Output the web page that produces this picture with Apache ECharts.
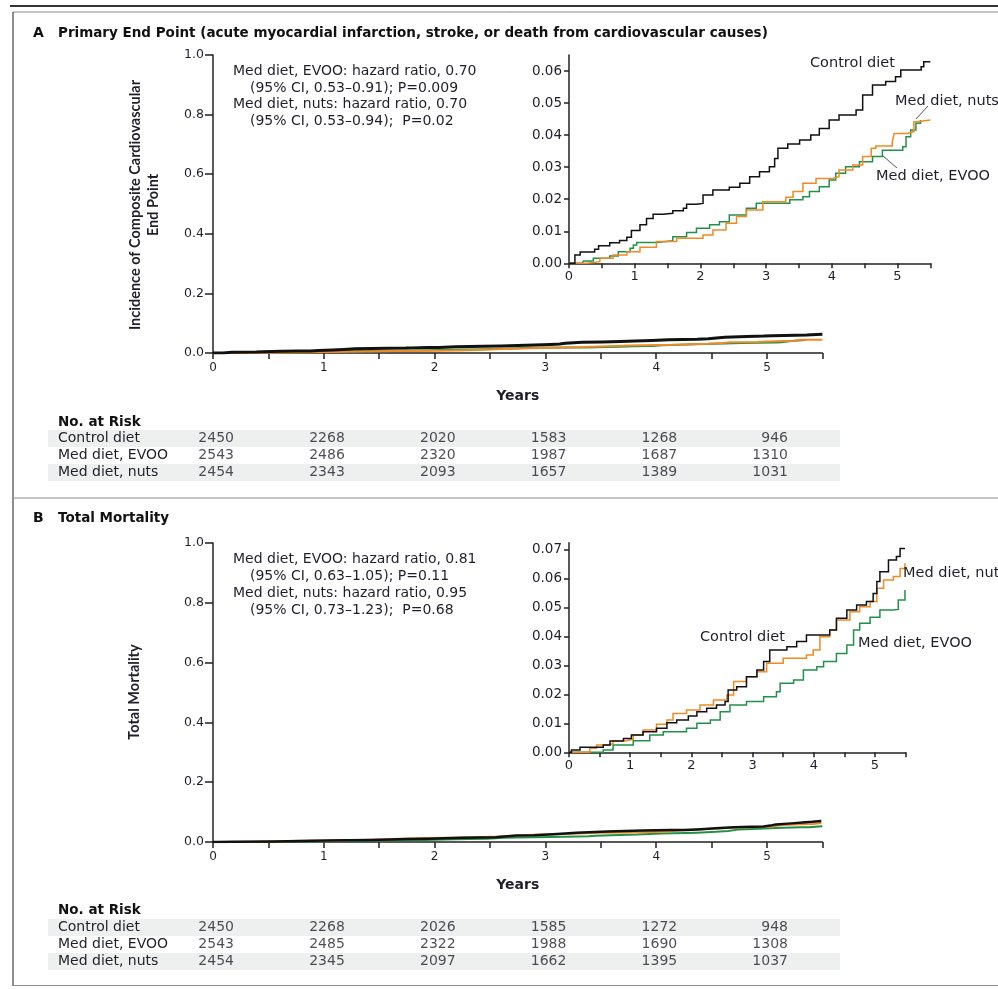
<!DOCTYPE html>
<html>
<head>
<meta charset="utf-8">
<script src="https://cdn.jsdelivr.net/npm/echarts@6/dist/echarts.min.js"></script>
<style>
  html, body { margin: 0; padding: 0; background: #fff; }
  #chart { width: 998px; height: 989px; }
</style>
</head>
<body>
<div id="chart"></div>
<script>
// Cumulative incidence step curves: [years, cumulative incidence]
// Panel A: primary end point
const controlA = [[0,0],[0.09,0.0026],[0.17,0.0035],[0.39,0.0044],[0.45,0.0055],[0.62,0.0064],[0.77,0.0071],[0.88,0.0081],[0.95,0.0102],[1.08,0.012],[1.18,0.014],[1.28,0.0153],[1.43,0.0156],[1.58,0.0164],[1.74,0.0172],[1.79,0.0184],[1.94,0.0187],[2.04,0.0213],[2.19,0.0229],[2.44,0.0237],[2.60,0.025],[2.75,0.027],[2.90,0.0286],[3.05,0.0301],[3.13,0.0327],[3.18,0.0359],[3.33,0.0372],[3.51,0.0385],[3.68,0.04],[3.81,0.0421],[3.96,0.0447],[4.11,0.0463],[4.37,0.0478],[4.47,0.0525],[4.62,0.0556],[4.82,0.0567],[4.97,0.0582],[5.05,0.0603],[5.36,0.0613],[5.40,0.0629],[5.5,0.0629]];
const evooA = [[0,0],[0.20,0],[0.22,0.0007],[0.37,0.0016],[0.62,0.0023],[0.75,0.0036],[0.93,0.0047],[0.98,0.0057],[1.03,0.0065],[1.33,0.007],[1.58,0.0083],[1.79,0.0096],[1.94,0.0109],[2.14,0.012],[2.29,0.013],[2.44,0.0151],[2.70,0.0172],[2.85,0.0187],[3.25,0.0187],[3.36,0.0198],[3.56,0.0208],[3.66,0.0224],[3.81,0.0239],[3.96,0.026],[4.06,0.0281],[4.21,0.0301],[4.42,0.0317],[4.62,0.0333],[4.77,0.0353],[5.08,0.0364],[5.13,0.0395],[5.20,0.0416],[5.28,0.0437],[5.35,0.0447]];
const nutsA = [[0,0],[0.22,0],[0.27,0.0005],[0.47,0.0016],[0.67,0.0026],[0.88,0.0036],[1.08,0.005],[1.33,0.0068],[1.64,0.0078],[2.04,0.0088],[2.19,0.0104],[2.39,0.0125],[2.55,0.0146],[2.70,0.0166],[2.95,0.0192],[3.30,0.0206],[3.41,0.0224],[3.56,0.025],[3.76,0.0265],[4.01,0.027],[4.11,0.0291],[4.32,0.0307],[4.47,0.0333],[4.60,0.0359],[4.67,0.0366],[4.92,0.0379],[4.95,0.0405],[5.15,0.0411],[5.25,0.0442],[5.30,0.0447],[5.5,0.0447]];

// Panel B: total mortality
const controlB = [[0,0],[0.04,0.0008],[0.18,0.0017],[0.56,0.0025],[0.67,0.0039],[0.89,0.0048],[1.02,0.006],[1.21,0.0071],[1.43,0.0083],[1.60,0.0102],[1.76,0.0111],[1.95,0.0125],[2.09,0.014],[2.25,0.0152],[2.41,0.0163],[2.55,0.0175],[2.60,0.0215],[2.74,0.0226],[2.90,0.0261],[3.07,0.0284],[3.18,0.0313],[3.28,0.0353],[3.56,0.0364],[3.72,0.0382],[3.88,0.0405],[4.13,0.0405],[4.26,0.0422],[4.37,0.0462],[4.54,0.0491],[4.70,0.0508],[4.86,0.052],[4.97,0.0548],[5.03,0.0589],[5.08,0.0623],[5.22,0.0663],[5.35,0.0675],[5.41,0.0703],[5.49,0.0703]];
const evooB = [[0,0],[0.50,0],[0.56,0.0008],[0.72,0.0025],[1.05,0.004],[1.32,0.006],[1.54,0.0071],[1.92,0.0083],[2.09,0.01],[2.31,0.0111],[2.47,0.014],[2.63,0.0163],[2.90,0.0175],[3.18,0.0192],[3.39,0.0209],[3.45,0.0238],[3.67,0.0249],[3.83,0.0284],[4.05,0.0295],[4.16,0.0313],[4.37,0.0341],[4.54,0.037],[4.65,0.0422],[4.75,0.0445],[4.92,0.0466],[5.08,0.0491],[5.30,0.0493],[5.38,0.0525],[5.49,0.056]];
const nutsB = [[0,0],[0.29,0],[0.34,0.0014],[0.45,0.0025],[0.67,0.0031],[0.72,0.004],[0.94,0.0045],[1.05,0.006],[1.21,0.0077],[1.43,0.0097],[1.60,0.0111],[1.70,0.0134],[1.92,0.0146],[2.14,0.0163],[2.36,0.018],[2.58,0.0198],[2.69,0.0244],[2.90,0.0261],[3.07,0.0278],[3.23,0.0307],[3.50,0.0324],[3.88,0.0336],[3.99,0.0353],[4.10,0.0399],[4.26,0.0422],[4.37,0.0456],[4.59,0.0485],[4.75,0.0502],[4.92,0.052],[5.03,0.0566],[5.14,0.0594],[5.30,0.0606],[5.41,0.0634],[5.49,0.0652]];

// Numbers at risk at each whole year
const riskYears = [0, 1, 2, 3, 4, 5];
const riskGroups = ['Control diet', 'Med diet, EVOO', 'Med diet, nuts'];
const riskControlA = [2450, 2268, 2020, 1583, 1268, 946];
const riskEvooA = [2543, 2486, 2320, 1987, 1687, 1310];
const riskNutsA = [2454, 2343, 2093, 1657, 1389, 1031];
const riskControlB = [2450, 2268, 2026, 1585, 1272, 948];
const riskEvooB = [2543, 2485, 2322, 1988, 1690, 1308];
const riskNutsB = [2454, 2345, 2097, 1662, 1395, 1037];

// Axis tick values
const insetYTicksA = [0, 0.01, 0.02, 0.03, 0.04, 0.05, 0.06];
const insetYTicksB = [0, 0.01, 0.02, 0.03, 0.04, 0.05, 0.06, 0.07];

const FONT = '"DejaVu Sans", sans-serif';
const FONT_ROT = 'Lato, "Open Sans", sans-serif';
const TXT = '#1f1f2a';
const AXIS = '#222';
const C_CONTROL = '#111111';
const C_EVOO = '#23904a';
const C_NUTS = '#ef8a24';

const YR = 110.8;      // px per year, main plots
const MAIN_W = 5.5 * YR;

const isWhole = v => Math.abs(v - Math.round(v)) < 1e-6;

function yearAxis(gridIndex, withName) {
  return {
    type: 'value', gridIndex, min: 0, max: 5.5, interval: 0.5,
    axisLine: { lineStyle: { color: AXIS, width: 1.5 } },
    axisTick: { length: withName ? 6 : 5, lineStyle: { color: AXIS, width: 1.5 } },
    axisLabel: { color: TXT, fontFamily: FONT, fontSize: withName ? 12 : 13, margin: withName ? 9 : 7,
      formatter: v => isWhole(v) ? String(Math.round(v)) : '' },
    splitLine: { show: false },
    name: withName ? 'Years' : '', nameLocation: 'middle', nameGap: 36,
    nameTextStyle: { fontFamily: FONT, fontWeight: 'bold', fontSize: 14, color: TXT }
  };
}

function mainYAxis(gridIndex) {
  return {
    type: 'value', gridIndex, min: 0, max: 1, interval: 0.2,
    axisLine: { show: true, lineStyle: { color: AXIS, width: 1.5 } },
    axisTick: { show: true, length: 8, lineStyle: { color: AXIS, width: 1.5 } },
    axisLabel: { color: TXT, fontFamily: FONT, fontSize: 12.5, margin: 9, formatter: v => v.toFixed(1) },
    splitLine: { show: false }
  };
}

function insetYAxis(gridIndex, max, ticks) {
  return {
    type: 'value', gridIndex, min: 0, max,
    axisLine: { show: true, lineStyle: { color: AXIS, width: 1.5 } },
    axisTick: { show: true, length: 5, customValues: ticks, lineStyle: { color: AXIS, width: 1.5 } },
    axisLabel: { color: TXT, fontFamily: FONT, fontSize: 13.5, margin: 7, customValues: ticks,
      formatter: v => v.toFixed(2) },
    splitLine: { show: false }
  };
}

function riskXAxis(gridIndex) {
  return { type: 'value', gridIndex, min: 0, max: 5.5, show: false };
}

function riskYAxis(gridIndex) {
  return {
    type: 'category', gridIndex, data: riskGroups, inverse: true,
    axisLine: { show: false }, axisTick: { show: false },
    axisLabel: { interval: 0, hideOverlap: false, align: 'left', margin: 155, color: TXT, fontFamily: FONT, fontSize: 14 }
  };
}

function km(data, color, width, axisIndex, z) {
  return {
    type: 'line', step: 'end', data, xAxisIndex: axisIndex, yAxisIndex: axisIndex,
    showSymbol: false, symbol: 'none', silent: true, z,
    lineStyle: { color, width, join: 'miter', cap: 'butt' }
  };
}

function riskSeries(axisIndex, rows) {
  const pts = [];
  rows.forEach((vals, r) => vals.forEach((n, i) => pts.push([riskYears[i], r, n])));
  return {
    type: 'scatter', xAxisIndex: axisIndex, yAxisIndex: axisIndex, data: pts,
    symbolSize: 1, itemStyle: { color: 'rgba(0,0,0,0)' }, silent: true,
    label: { show: true, position: 'inside', align: 'right', offset: [21, 0],
      color: TXT, fontFamily: FONT, fontSize: 14, formatter: p => String(p.data[2]) }
  };
}

function text(x, y, str, opts = {}) {
  return {
    type: 'text', x, y, rotation: opts.rotation || 0, silent: true, z: 10,
    style: {
      text: str, fill: opts.color || TXT,
      font: `${opts.weight || 'normal'} ${opts.size || 14}px ${opts.family || FONT}`,
      align: opts.align || 'left', verticalAlign: opts.valign || 'middle',
      lineHeight: opts.lineHeight || 17
    }
  };
}

function line(x1, y1, x2, y2, color, width) {
  return { type: 'line', silent: true, z: 1, shape: { x1, y1, x2, y2 }, style: { stroke: color, lineWidth: width } };
}

function band(y, h) {
  return { type: 'rect', silent: true, z: -10, shape: { x: 48, y, width: 792, height: h }, style: { fill: '#eef0ef' } };
}

const graphics = [
  // frame
  line(10, 6, 998, 6, '#333', 2),
  line(13, 12, 998, 12, '#8a8a8a', 1),
  line(13, 12, 13, 986, '#6a6a6a', 1.5),
  line(13, 498, 998, 498, '#8a8a8a', 1.2),
  line(13, 985.5, 998, 985.5, '#8a8a8a', 1.2),
  // table row bands
  band(430, 17), band(464, 17),
  band(919, 17), band(953, 17),
  // panel titles
  text(33, 33, 'A', { weight: 'bold', size: 14, color: '#111' }),
  text(58, 33, 'Primary End Point (acute myocardial infarction, stroke, or death from cardiovascular causes)', { weight: 'bold', size: 13.5, color: '#111' }),
  text(33, 518, 'B', { weight: 'bold', size: 14, color: '#111' }),
  text(58, 518, 'Total Mortality', { weight: 'bold', size: 13.5, color: '#111' }),
  // y-axis titles
  text(144, 205, 'Incidence of Composite Cardiovascular\nEnd Point', { weight: 'bold', size: 14.5, family: FONT_ROT, align: 'center', rotation: Math.PI / 2, lineHeight: 18 }),
  text(134, 692, 'Total Mortality', { weight: 'bold', size: 14.5, family: FONT_ROT, align: 'center', rotation: Math.PI / 2 }),
  // hazard ratio notes
  text(233, 71, 'Med diet, EVOO: hazard ratio, 0.70'),
  text(250, 88, '(95% CI, 0.53\u20130.91); P=0.009'),
  text(233, 104, 'Med diet, nuts: hazard ratio, 0.70'),
  text(250, 121, '(95% CI, 0.53\u20130.94);  P=0.02'),
  text(233, 559, 'Med diet, EVOO: hazard ratio, 0.81'),
  text(250, 576, '(95% CI, 0.63\u20131.05); P=0.11'),
  text(233, 593, 'Med diet, nuts: hazard ratio, 0.95'),
  text(250, 610, '(95% CI, 0.73\u20131.23);  P=0.68'),
  // inset curve labels
  text(810, 63, 'Control diet', { size: 14.5 }),
  text(895, 101, 'Med diet, nuts', { size: 14.5 }),
  text(876, 176, 'Med diet, EVOO', { size: 14.5 }),
  line(928, 106, 916, 119, '#555', 1),
  line(883, 156, 897, 168, '#555', 1),
  text(700, 637, 'Control diet', { size: 14.5 }),
  text(903, 573, 'Med diet, nuts', { size: 14.5 }),
  text(858, 643, 'Med diet, EVOO', { size: 14.5 }),
  // risk table headings
  text(58, 422, 'No. at Risk', { weight: 'bold', size: 13.5, color: '#111' }),
  text(58, 910, 'No. at Risk', { weight: 'bold', size: 13.5, color: '#111' })
];

const option = {
  animation: false,
  backgroundColor: '#fff',
  textStyle: { fontFamily: FONT },
  grid: [
    { left: 213, top: 55, width: MAIN_W, height: 298 },              // 0 main A
    { left: 569, top: 55, width: 5.5 * 65.7, height: 208.3 },         // 1 inset A
    { left: 213, top: 543, width: MAIN_W, height: 299 },             // 2 main B
    { left: 569, top: 542.7, width: 5.5 * 61.2, height: 209.6 },     // 3 inset B
    { left: 213, top: 430, width: MAIN_W, height: 51 },              // 4 risk A
    { left: 213, top: 919, width: MAIN_W, height: 51 }               // 5 risk B
  ],
  xAxis: [
    yearAxis(0, true), yearAxis(1, false), yearAxis(2, true), yearAxis(3, false),
    riskXAxis(4), riskXAxis(5)
  ],
  yAxis: [
    mainYAxis(0), insetYAxis(1, 0.065, insetYTicksA), mainYAxis(2), insetYAxis(3, 0.0723, insetYTicksB),
    riskYAxis(4), riskYAxis(5)
  ],
  series: [
    km(evooA, C_EVOO, 2, 0, 2), km(nutsA, C_NUTS, 2, 0, 3), km(controlA, C_CONTROL, 3, 0, 4),
    km(evooA, C_EVOO, 1.5, 1, 2), km(nutsA, C_NUTS, 1.5, 1, 3), km(controlA, C_CONTROL, 1.5, 1, 4),
    km(evooB, C_EVOO, 2, 2, 2), km(nutsB, C_NUTS, 2, 2, 3), km(controlB, C_CONTROL, 2.5, 2, 4),
    km(evooB, C_EVOO, 1.5, 3, 2), km(nutsB, C_NUTS, 1.5, 3, 3), km(controlB, C_CONTROL, 1.5, 3, 4),
    riskSeries(4, [riskControlA, riskEvooA, riskNutsA]),
    riskSeries(5, [riskControlB, riskEvooB, riskNutsB])
  ],
  graphic: graphics
};

const chart = echarts.init(document.getElementById('chart'));
chart.setOption(option);
</script>
</body>
</html>
